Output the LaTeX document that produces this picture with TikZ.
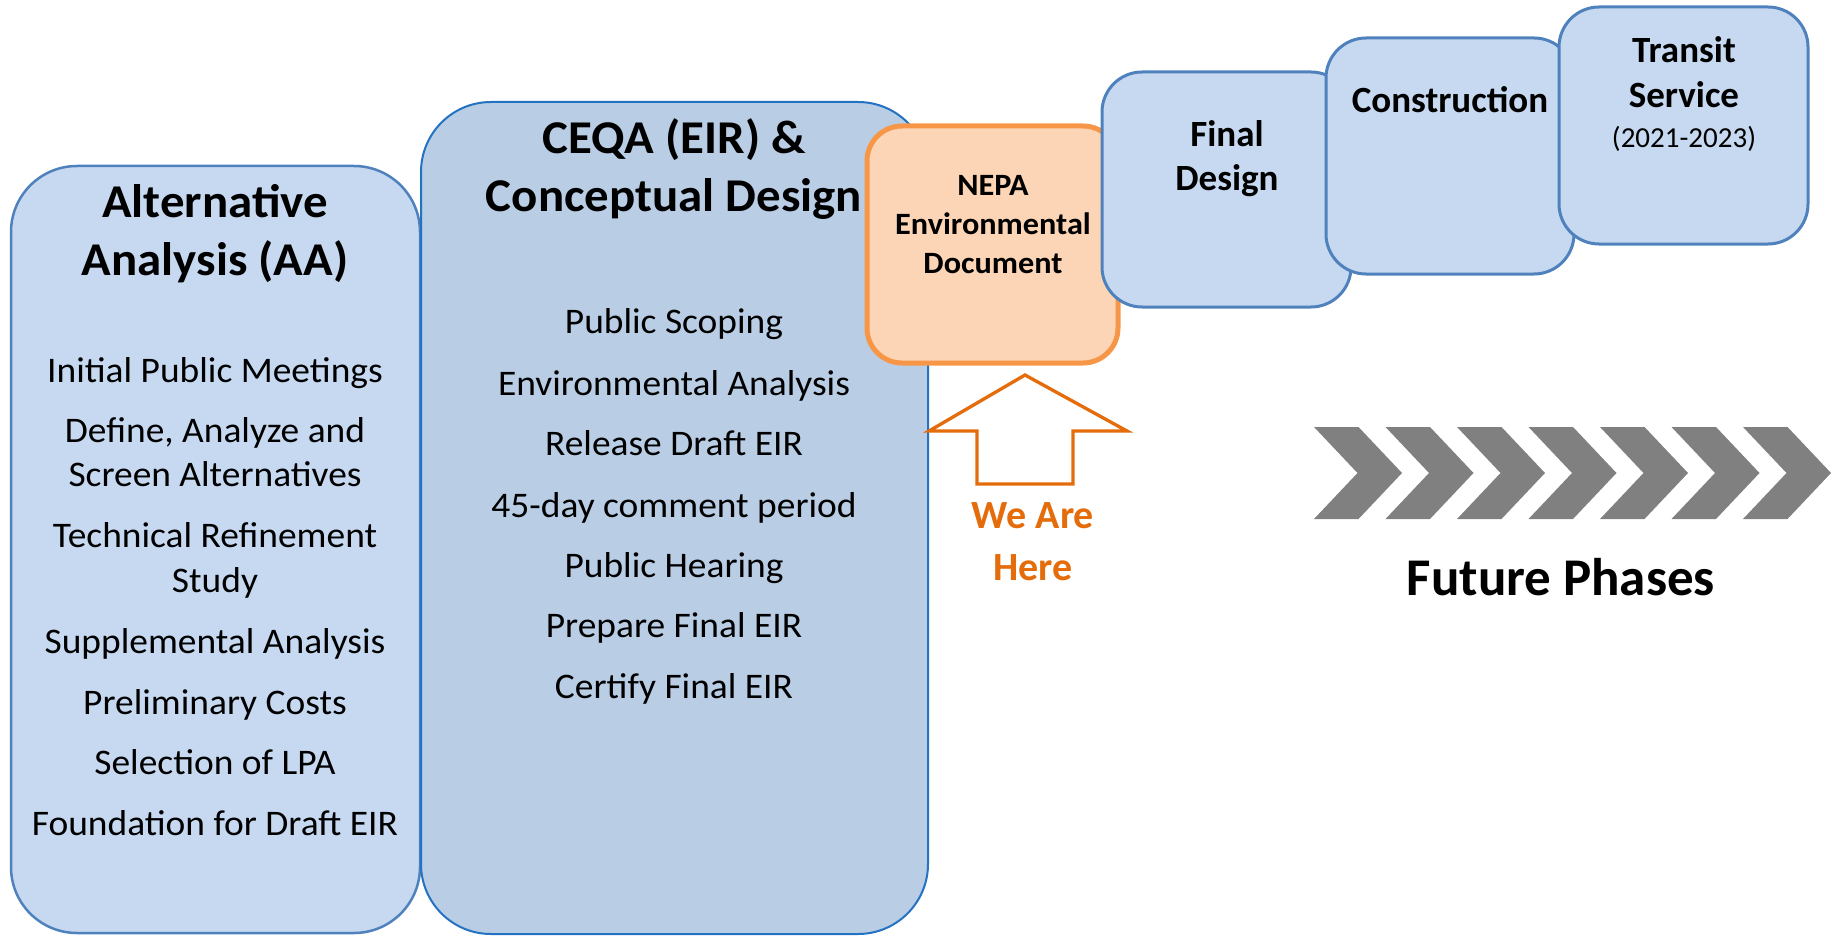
\documentclass[tikz,border=0pt]{standalone}
\usepackage{fontspec}
\setmainfont{Carlito}
\newfontfamily\widefont{Carlito}[FakeStretch=1.04]
\definecolor{aafill}{RGB}{198,217,241}
\definecolor{aaline}{RGB}{79,129,189}
\definecolor{ceqafill}{RGB}{185,205,229}
\definecolor{ceqaline}{RGB}{36,114,194}
\definecolor{nepafill}{RGB}{251,213,181}
\definecolor{nepaline}{RGB}{247,150,70}
\definecolor{hereorange}{RGB}{228,108,10}
\definecolor{chevgray}{RGB}{128,128,128}
\begin{document}
\begin{tikzpicture}[x=1pt,y=-1pt,
  phase/.style={draw, rectangle, anchor=north west, inner sep=0pt, outer sep=0pt},
  bluebox/.style={phase, fill=aafill, draw=aaline, line width=3pt, rounded corners=40pt},
  txt/.style={anchor=base, inner sep=0pt, outer sep=0pt},
  bigtitle/.style={txt, font=\widefont\fontsize{47}{57}\selectfont\bfseries},
  item/.style={txt, font=\widefont\fontsize{36}{44}\selectfont},
  nepatxt/.style={txt, font=\widefont\fontsize{31}{38}\selectfont\bfseries},
  futtxt/.style={txt, font=\fontsize{37}{45}\selectfont\bfseries},
  heretxt/.style={txt, font=\fontsize{40}{52}\selectfont\bfseries, text=hereorange}]
\path[use as bounding box] (0,0) rectangle (1831,936);

% phase boxes
\node[phase, fill=aafill, draw=aaline, line width=2.5pt, rounded corners=66pt,
      minimum width=409pt, minimum height=767pt] (aa) at (11,166) {};
\node[phase, fill=ceqafill, draw=ceqaline, line width=2pt, rounded corners=70pt,
      minimum width=507pt, minimum height=832pt] (ceqa) at (421,102) {};
\node[phase, fill=nepafill, draw=nepaline, line width=5pt, rounded corners=35pt,
      minimum width=251pt, minimum height=237pt] (nepa) at (867,126) {};
\node[bluebox, minimum width=249pt, minimum height=235pt] (final) at (1102,72) {};
\node[bluebox, minimum width=248pt, minimum height=236pt] (constr) at (1326,38) {};
\node[bluebox, minimum width=249pt, minimum height=237pt] (transit) at (1559,7) {};

% AA text
\node[bigtitle] (aat1) at (215,218) {Alternative};
\node[bigtitle] (aat2) at (215,275) {Analysis (AA)};
\node[item] (aai1) at (215,382) {Initial Public Meetings};
\node[item] (aai2) at (215,442) {Define, Analyze and};
\node[item] (aai3) at (215,486) {Screen Alternatives};
\node[item] (aai4) at (215,547) {Technical Refinement};
\node[item] (aai5) at (215,592) {Study};
\node[item] (aai6) at (215,653) {Supplemental Analysis};
\node[item] (aai7) at (215,714) {Preliminary Costs};
\node[item] (aai8) at (215,774) {Selection of LPA};
\node[item] (aai9) at (215,835) {Foundation for Draft EIR};

% CEQA text
\node[bigtitle] (ceqat1) at (674,154) {CEQA (EIR) \&};
\node[bigtitle] (ceqat2) at (674,212) {Conceptual Design};
\node[item] (ceqai1) at (674,333) {Public Scoping};
\node[item] (ceqai2) at (674,395) {Environmental Analysis};
\node[item] (ceqai3) at (674,455) {Release Draft EIR};
\node[item] (ceqai4) at (674,517) {45-day comment period};
\node[item] (ceqai5) at (674,577) {Public Hearing};
\node[item] (ceqai6) at (674,637) {Prepare Final EIR};
\node[item] (ceqai7) at (674,698) {Certify Final EIR};

% NEPA text
\node[nepatxt] (nepat1) at (993,196) {NEPA};
\node[nepatxt] (nepat2) at (993,235) {Environmental};
\node[nepatxt] (nepat3) at (993,273) {Document};

% future boxes text
\node[futtxt] (finalt1) at (1227,147) {Final};
\node[futtxt] (finalt2) at (1227,191) {Design};
\node[futtxt] (constrt) at (1450,113) {Construction};
\node[futtxt] (transitt1) at (1684,63) {Transit};
\node[futtxt] (transitt2) at (1684,108) {Service};
\node[txt, font=\fontsize{29}{35}\selectfont] (transitt3) at (1684,148) {(2021-2023)};

% We are here arrow
\draw[hereorange, line width=3.3pt, fill=white, line join=miter]
  (1025,375) -- (1127,431) -- (1073,431) -- (1073,484) -- (977,484) -- (977,431)
  -- (929,431) -- cycle;
\node[heretxt] (here1) at (1033,528) {We Are};
\node[heretxt] (here2) at (1033,580) {Here};

% chevrons
\foreach \i in {0,...,6}{
  \fill[chevgray] ({1314+71.5*\i},427) -- ++(44.5,0) -- ++(43.5,46) -- ++(-43.5,46)
    -- ++(-44.5,0) -- ++(43.5,-46) -- cycle;
}
\node[txt, font=\fontsize{53}{64}\selectfont\bfseries] (future) at (1561,595) {Future Phases};
\end{tikzpicture}
\end{document}
